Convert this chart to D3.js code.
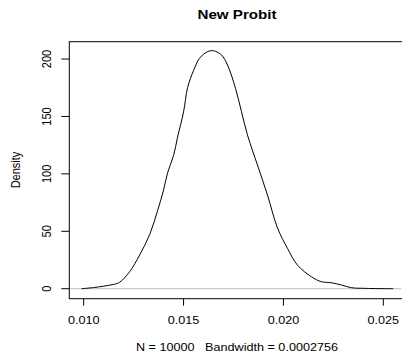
<!DOCTYPE html>
<html lang="en">
<head>
    <meta charset="UTF-8">
    <title>New Probit</title>
    <script src="https://d3js.org/d3.v7.min.js"></script>
    <style>
        body { margin: 0; background: #fff; }
        text { font-family: "Liberation Sans", Arial, sans-serif; fill: #000; white-space: pre; }
    </style>
</head>
<body>
<svg id="chart"></svg>

<script>
    // density estimate
    const densX = [0.0099, 0.0105, 0.0110, 0.0115, 0.0118, 0.0123, 0.0128, 0.0133, 0.0137, 0.0140,
        0.0142, 0.0145, 0.0147, 0.0150, 0.0152, 0.0155, 0.0158, 0.0162, 0.0165, 0.0169,
        0.0172, 0.0176, 0.0179, 0.0182, 0.0187, 0.0192, 0.0197, 0.0202, 0.0207, 0.0214,
        0.0219, 0.0224, 0.0229, 0.0234, 0.0241, 0.0255];
    const densY = [0, 1, 2.2, 3.8, 5.6, 14.8, 29.3, 47, 68, 86,
        101, 116, 132, 154, 175, 190, 200.6, 206.4, 207.2, 203.5,
        194.8, 174.5, 154.1, 133.8, 107.7, 81.6, 53, 35.2, 20.6, 10.4,
        6.1, 5.2, 3.2, 0.9, 0.3, 0];

    const xTicks = [0.010, 0.015, 0.020, 0.025];
    const xLabels = ["0.010", "0.015", "0.020", "0.025"];
    const yTicks = [0, 50, 100, 150, 200];
    const yLabels = ["0", "50", "100", "150", "200"];

    const title = "New Probit";
    const xTitle = "N = 10000   Bandwidth = 0.0002756";
    const yTitle = "Density";

    const width = 402, height = 353;
    const stretch = 402 / 350; // picture is wider than tall in its text

    const svg = d3.select("#chart")
        .attr("width", width)
        .attr("height", height);

    const x = d3.scaleLinear().domain([0.00928, 0.02612]).range([69.3, 405.7]);
    const y = d3.scaleLinear().domain([-8.7, 215.1]).range([298.7, 41.7]);

    function label(px, py, str, size, rot, bold) {
        svg.append("text")
            .attr("transform", `translate(${px},${py}) scale(${stretch},1)` + (rot ? " rotate(-90)" : ""))
            .attr("text-anchor", "middle")
            .attr("font-size", size)
            .attr("font-weight", bold ? "bold" : "normal")
            .attr("xml:space", "preserve")
            .text(str);
    }

    // zero line
    svg.append("line")
        .attr("x1", x.range()[0]).attr("x2", x(0.0259))
        .attr("y1", y(0)).attr("y2", y(0))
        .attr("stroke", "#bebebe").attr("stroke-width", 1);

    // curve
    const line = d3.line()
        .x((d, i) => x(densX[i]))
        .y(d => y(d))
        .curve(d3.curveCatmullRom.alpha(0.5));

    svg.append("path")
        .datum(densY)
        .attr("d", line)
        .attr("fill", "none")
        .attr("stroke", "#000")
        .attr("stroke-width", 1);

    // box
    svg.append("rect")
        .attr("x", x.range()[0]).attr("y", y.range()[1])
        .attr("width", x.range()[1] - x.range()[0])
        .attr("height", y.range()[0] - y.range()[1])
        .attr("fill", "none")
        .attr("stroke", "#000")
        .attr("stroke-width", 1);

    // x axis ticks
    xTicks.forEach(function (t, i) {
        svg.append("line")
            .attr("x1", x(t)).attr("x2", x(t))
            .attr("y1", y.range()[0]).attr("y2", y.range()[0] + 7)
            .attr("stroke", "#000");
        label(x(t), 324, xLabels[i], 11, false, false);
    });

    // y axis ticks
    yTicks.forEach(function (t, i) {
        svg.append("line")
            .attr("x1", x.range()[0] - 8).attr("x2", x.range()[0])
            .attr("y1", y(t)).attr("y2", y(t))
            .attr("stroke", "#000");
        label(50.5, y(t), yLabels[i], 11, true, false);
    });

    label(237, 19, title, 13.2, false, true);
    label(237, 351, xTitle, 11, false, false);
    label(20, 170, yTitle, 11, true, false);
</script>
</body>
</html>
